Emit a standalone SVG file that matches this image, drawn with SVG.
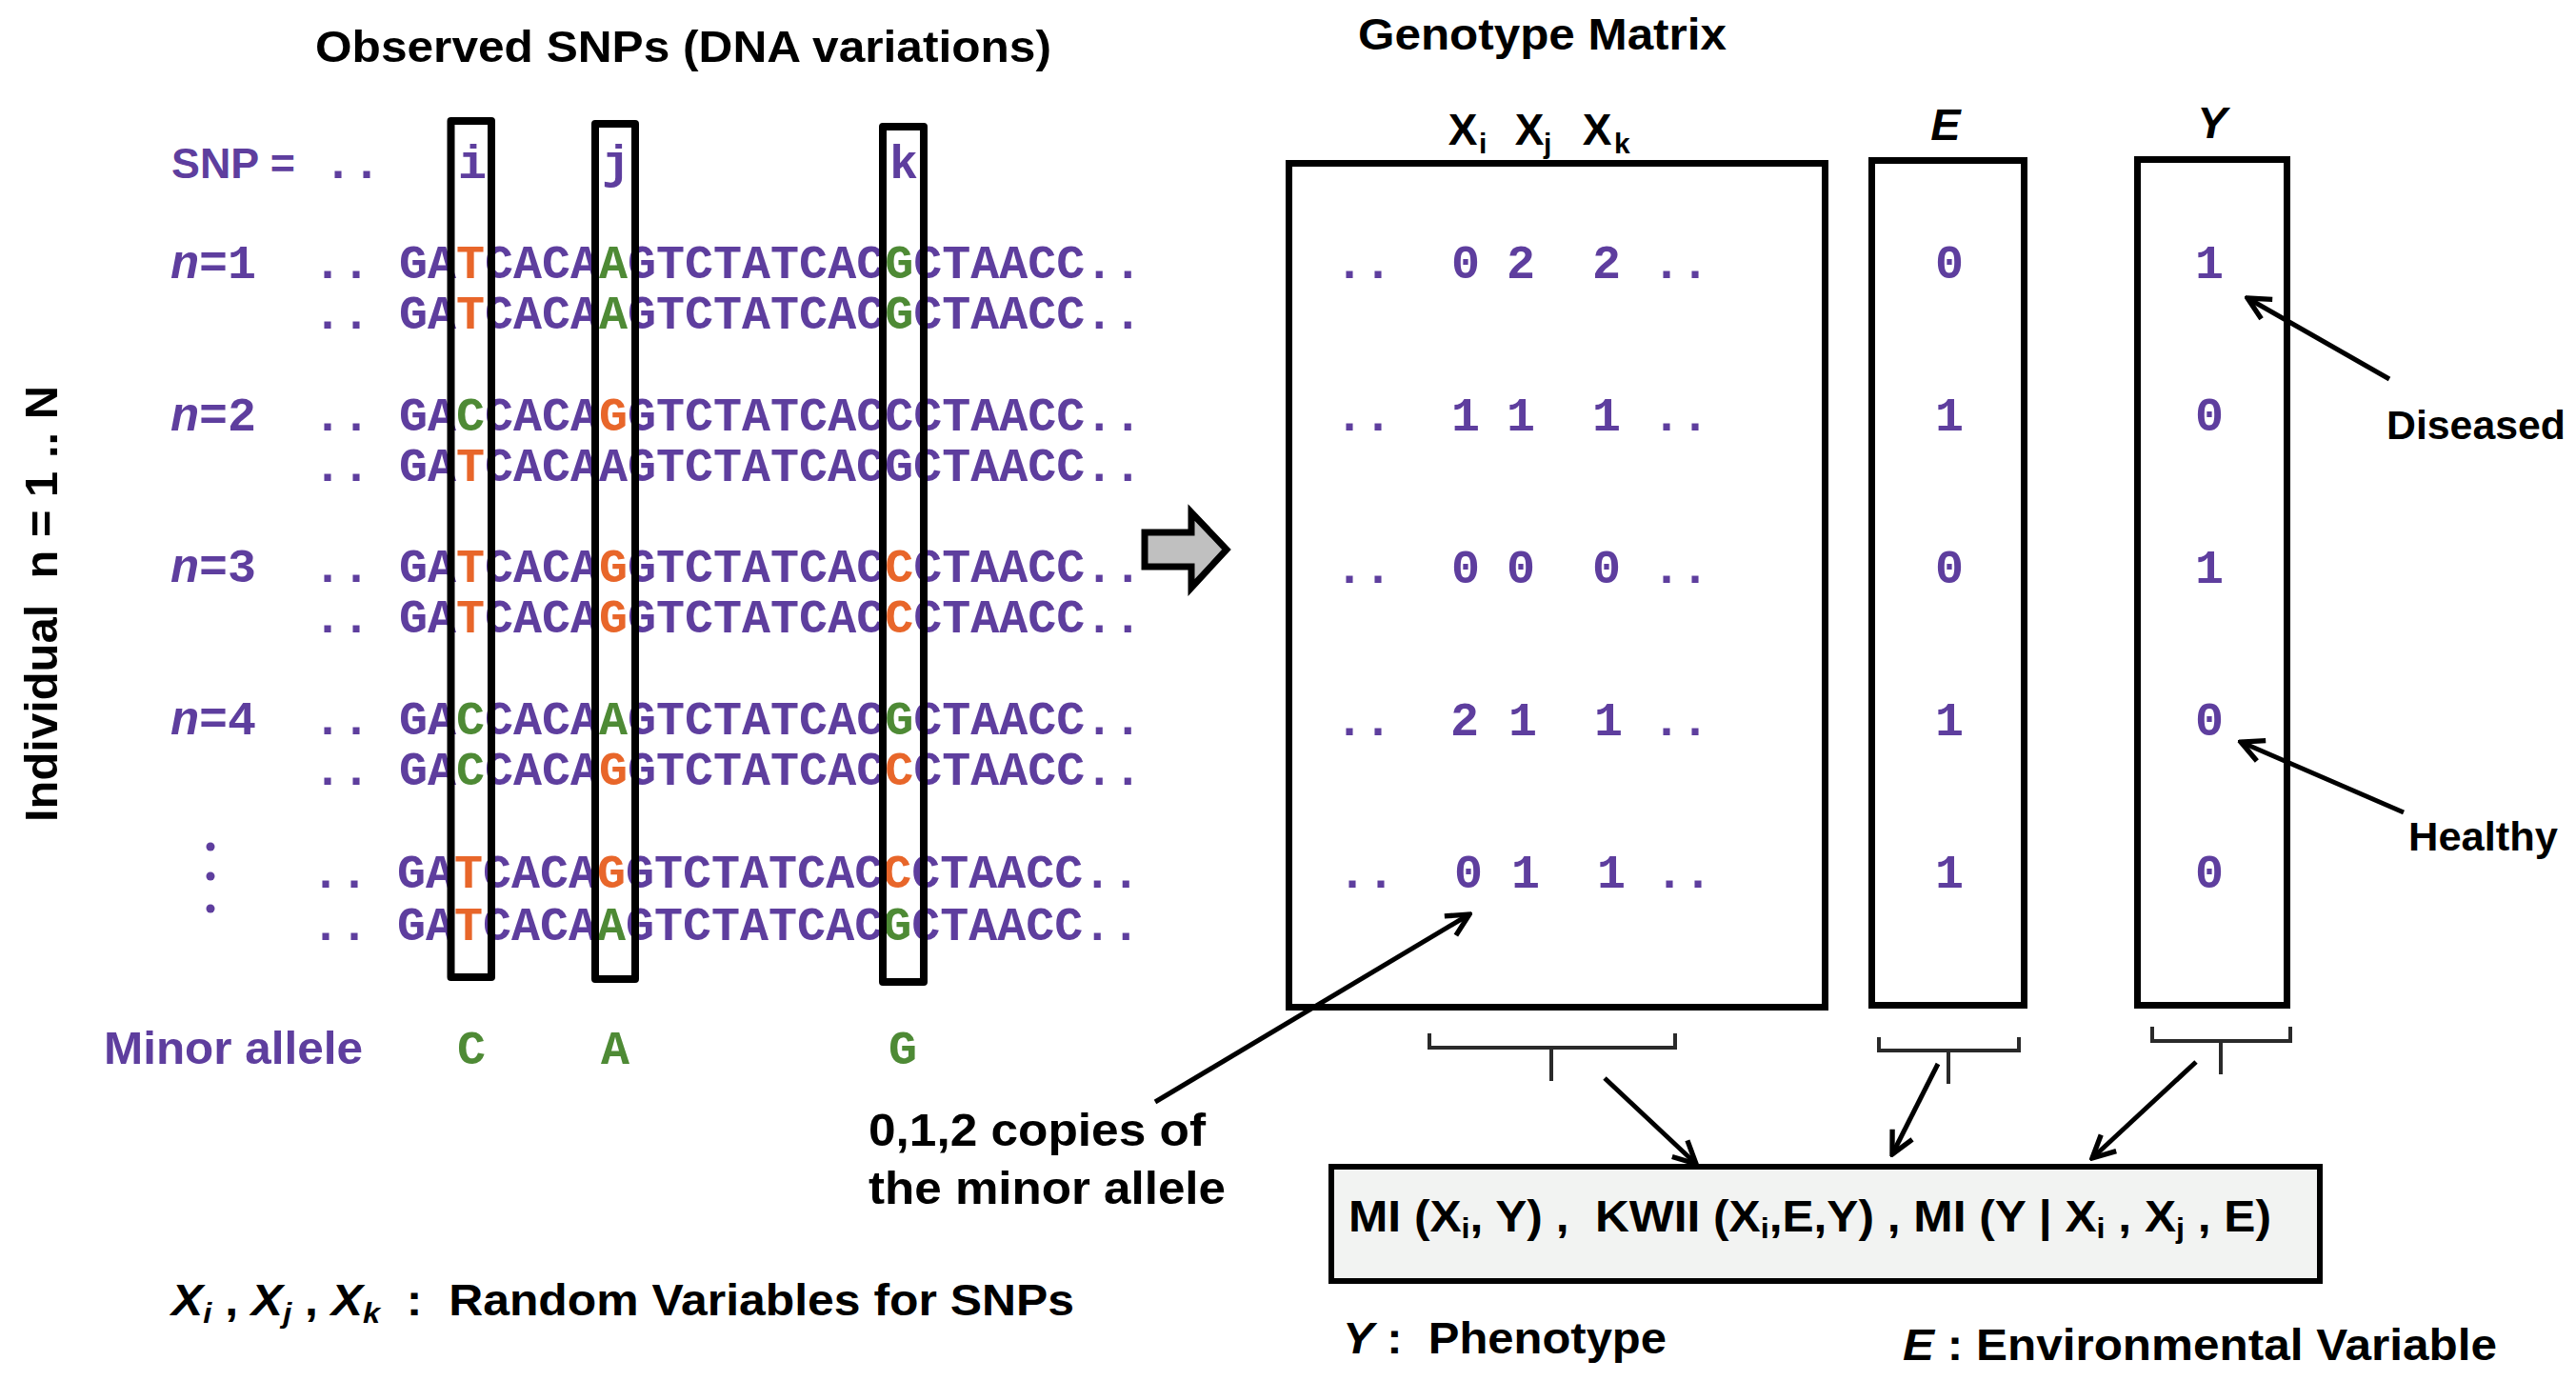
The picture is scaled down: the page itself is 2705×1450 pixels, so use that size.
<svg xmlns="http://www.w3.org/2000/svg" width="2705" height="1450" viewBox="0 0 2705 1450">
<style>
.sans{font-family:"Liberation Sans",Arial,sans-serif;font-weight:bold;fill:#000}
.mono{font-family:"Liberation Mono","Courier New",monospace;font-weight:bold;font-size:50px;fill:#5E3E9E}
.pur{fill:#5E3E9E}
.o{fill:#E8662A}
.g{fill:#4E8A35}
.box{fill:none;stroke:#000;stroke-width:8;stroke-linejoin:round}
.mbox{fill:#fff;stroke:#000;stroke-width:7}
.br{fill:none;stroke:#2a2a2a;stroke-width:4}
.arr{fill:none;stroke:#000;stroke-width:5;marker-end:url(#ah)}
.c{text-anchor:middle}
</style>
<defs>
<marker id="ah" viewBox="0 0 30 30" refX="27" refY="15" markerWidth="32" markerHeight="32" markerUnits="userSpaceOnUse" orient="auto">
<path d="M5,4 L27,15 L5,26" fill="none" stroke="#000" stroke-width="5"/>
</marker>
</defs>
<rect width="2705" height="1450" fill="#fff"/>

<g id="left-titles">
<text class="sans" x="331" y="65" font-size="47" textLength="773" lengthAdjust="spacingAndGlyphs">Observed SNPs (DNA variations)</text>
<text class="sans" x="60" y="863" font-size="49" transform="rotate(-90 60 863)" textLength="458" lengthAdjust="spacingAndGlyphs" xml:space="preserve">Individual  n = 1 .. N</text>
<text class="sans pur" x="180" y="187" font-size="44" textLength="130" lengthAdjust="spacingAndGlyphs">SNP =</text>
<text class="mono" x="340" y="187">..</text>
<text class="mono c" x="496" y="187">i</text>
<text class="mono c" x="647" y="187">j</text>
<text class="mono c" x="949" y="187">k</text>
</g>

<g id="sequences">
<text class="mono" x="179" y="292"><tspan font-style="italic">n</tspan>=1</text>
<text class="mono" x="179" y="452"><tspan font-style="italic">n</tspan>=2</text>
<text class="mono" x="179" y="611"><tspan font-style="italic">n</tspan>=3</text>
<text class="mono" x="179" y="771"><tspan font-style="italic">n</tspan>=4</text>
<text class="mono" x="329" y="292" xml:space="preserve">.. GA<tspan class="o">T</tspan>CACA<tspan class="g">A</tspan>GTCTATCAC<tspan class="g">G</tspan>CTAACC..</text>
<text class="mono" x="329" y="345" xml:space="preserve">.. GA<tspan class="o">T</tspan>CACA<tspan class="g">A</tspan>GTCTATCAC<tspan class="g">G</tspan>CTAACC..</text>
<text class="mono" x="329" y="452" xml:space="preserve">.. GA<tspan class="g">C</tspan>CACA<tspan class="o">G</tspan>GTCTATCACCCTAACC..</text>
<text class="mono" x="329" y="505" xml:space="preserve">.. GA<tspan class="o">T</tspan>CACAAGTCTATCACGCTAACC..</text>
<text class="mono" x="329" y="611" xml:space="preserve">.. GA<tspan class="o">T</tspan>CACA<tspan class="o">G</tspan>GTCTATCAC<tspan class="o">C</tspan>CTAACC..</text>
<text class="mono" x="329" y="664" xml:space="preserve">.. GA<tspan class="o">T</tspan>CACA<tspan class="o">G</tspan>GTCTATCAC<tspan class="o">C</tspan>CTAACC..</text>
<text class="mono" x="329" y="771" xml:space="preserve">.. GA<tspan class="g">C</tspan>CACA<tspan class="g">A</tspan>GTCTATCAC<tspan class="g">G</tspan>CTAACC..</text>
<text class="mono" x="329" y="824" xml:space="preserve">.. GA<tspan class="g">C</tspan>CACA<tspan class="o">G</tspan>GTCTATCAC<tspan class="o">C</tspan>CTAACC..</text>
<text class="mono" x="327" y="932" xml:space="preserve">.. GA<tspan class="o">T</tspan>CACA<tspan class="o">G</tspan>GTCTATCAC<tspan class="o">C</tspan>CTAACC..</text>
<text class="mono" x="327" y="987" xml:space="preserve">.. GA<tspan class="o">T</tspan>CACA<tspan class="g">A</tspan>GTCTATCAC<tspan class="g">G</tspan>CTAACC..</text>
<circle class="pur" cx="221" cy="889" r="4.5"/>
<circle class="pur" cx="221" cy="920" r="4.5"/>
<circle class="pur" cx="221" cy="954" r="4.5"/>
</g>

<g id="snp-boxes">
<rect class="box" x="473.5" y="127" width="42.5" height="899"/>
<rect class="box" x="625" y="130" width="42" height="898"/>
<rect class="box" x="927" y="133" width="43" height="898"/>
</g>

<g id="minor-allele">
<text class="sans pur" x="109" y="1117" font-size="48" textLength="272" lengthAdjust="spacingAndGlyphs">Minor allele</text>
<text class="mono g c" x="495" y="1117">C</text>
<text class="mono g c" x="646" y="1117">A</text>
<text class="mono g c" x="948" y="1117">G</text>
</g>

<g id="random-vars">
<text class="sans" x="180" y="1381" font-size="46" textLength="948" lengthAdjust="spacingAndGlyphs" xml:space="preserve"><tspan font-style="italic">X</tspan><tspan font-style="italic" font-size="30" dy="8">i</tspan><tspan dy="-8"> , </tspan><tspan font-style="italic">X</tspan><tspan font-style="italic" font-size="30" dy="8">j</tspan><tspan dy="-8"> , </tspan><tspan font-style="italic">X</tspan><tspan font-style="italic" font-size="30" dy="8">k</tspan><tspan dy="-8">  :  Random Variables for SNPs</tspan></text>
</g>

<g id="transform-arrow">
<polygon points="1202,559 1251,559 1251,538 1288,577 1251,617 1251,595 1202,595" fill="#C0C0C0" stroke="#000" stroke-width="7" stroke-linejoin="miter"/>
</g>

<g id="genotype-matrix">
<text class="sans" x="1426" y="52" font-size="46" textLength="387" lengthAdjust="spacingAndGlyphs">Genotype Matrix</text>
<text class="sans c" x="1536" y="152" font-size="46">X</text>
<text class="sans" x="1553" y="161" font-size="30">i</text>
<text class="sans c" x="1606" y="152" font-size="46">X</text>
<text class="sans" x="1621" y="161" font-size="30">j</text>
<text class="sans c" x="1677" y="152" font-size="46">X</text>
<text class="sans" x="1695" y="161" font-size="30">k</text>
<rect class="mbox" x="1353.5" y="171.5" width="563" height="886"/>
<g class="mono c">
<text x="1432" y="292">..</text><text x="1539" y="292">0</text><text x="1597" y="292">2</text><text x="1687" y="292">2</text><text x="1765" y="292">..</text>
<text x="1432" y="452">..</text><text x="1539" y="452">1</text><text x="1597" y="452">1</text><text x="1687" y="452">1</text><text x="1765" y="452">..</text>
<text x="1432" y="612">..</text><text x="1539" y="612">0</text><text x="1597" y="612">0</text><text x="1687" y="612">0</text><text x="1765" y="612">..</text>
<text x="1432" y="772">..</text><text x="1538" y="772">2</text><text x="1599" y="772">1</text><text x="1689" y="772">1</text><text x="1765" y="772">..</text>
<text x="1435" y="932">..</text><text x="1542" y="932">0</text><text x="1602" y="932">1</text><text x="1692" y="932">1</text><text x="1768" y="932">..</text>
</g>
</g>

<g id="E-column">
<text class="sans c" x="2043" y="147" font-size="47" font-style="italic">E</text>
<rect class="mbox" x="1965.5" y="168.5" width="160" height="887"/>
<g class="mono c">
<text x="2047" y="292">0</text><text x="2047" y="452">1</text><text x="2047" y="612">0</text><text x="2047" y="772">1</text><text x="2047" y="932">1</text>
</g>
</g>

<g id="Y-column">
<text class="sans c" x="2323" y="145" font-size="47" font-style="italic">Y</text>
<rect class="mbox" x="2244.5" y="167.5" width="157" height="888"/>
<g class="mono c">
<text x="2320" y="292">1</text><text x="2320" y="452">0</text><text x="2320" y="612">1</text><text x="2320" y="772">0</text><text x="2320" y="932">0</text>
</g>
</g>

<g id="annotations">
<text class="sans" x="2506" y="461" font-size="43" textLength="188" lengthAdjust="spacingAndGlyphs">Diseased</text>
<text class="sans" x="2529" y="893" font-size="43" textLength="157" lengthAdjust="spacingAndGlyphs">Healthy</text>
<text class="sans" x="912" y="1203" font-size="48" textLength="354" lengthAdjust="spacingAndGlyphs">0,1,2 copies of</text>
<text class="sans" x="912" y="1264" font-size="48" textLength="375" lengthAdjust="spacingAndGlyphs">the minor allele</text>
</g>

<g id="formula">
<rect x="1398" y="1225" width="1038" height="120" fill="#F2F3F2" stroke="#000" stroke-width="6"/>
<text class="sans" x="1416" y="1293" font-size="46" textLength="969" lengthAdjust="spacingAndGlyphs" xml:space="preserve">MI (X<tspan font-size="30" dy="7">i</tspan><tspan dy="-7">, Y) ,  KWII (X</tspan><tspan font-size="30" dy="7">i</tspan><tspan dy="-7">,E,Y) , MI (Y | X</tspan><tspan font-size="30" dy="7">i</tspan><tspan dy="-7"> , X</tspan><tspan font-size="30" dy="7">j</tspan><tspan dy="-7"> , E)</tspan></text>
</g>

<g id="legend">
<text class="sans" x="1410" y="1421" font-size="46" textLength="340" lengthAdjust="spacingAndGlyphs" xml:space="preserve"><tspan font-style="italic">Y</tspan> :  Phenotype</text>
<text class="sans" x="1998" y="1428" font-size="46" textLength="624" lengthAdjust="spacingAndGlyphs" xml:space="preserve"><tspan font-style="italic">E</tspan> : Environmental Variable</text>
</g>

<g id="connectors">
<path class="br" d="M1501,1085 V1100 H1759 V1085 M1629,1100 V1135"/>
<path class="br" d="M1973,1089 V1103 H2120 V1089 M2046,1103 V1138"/>
<path class="br" d="M2260,1078 V1093 H2405 V1078 M2332,1093 V1128"/>
<line class="arr" x1="1685" y1="1132" x2="1781" y2="1222"/>
<line class="arr" x1="2035" y1="1117" x2="1987" y2="1212"/>
<line class="arr" x1="2306" y1="1115" x2="2197" y2="1216"/>
<line class="arr" x1="1213" y1="1157" x2="1543" y2="960"/>
<line class="arr" x1="2509" y1="398" x2="2360" y2="313"/>
<line class="arr" x1="2524" y1="853" x2="2353" y2="779"/>
</g>
</svg>
